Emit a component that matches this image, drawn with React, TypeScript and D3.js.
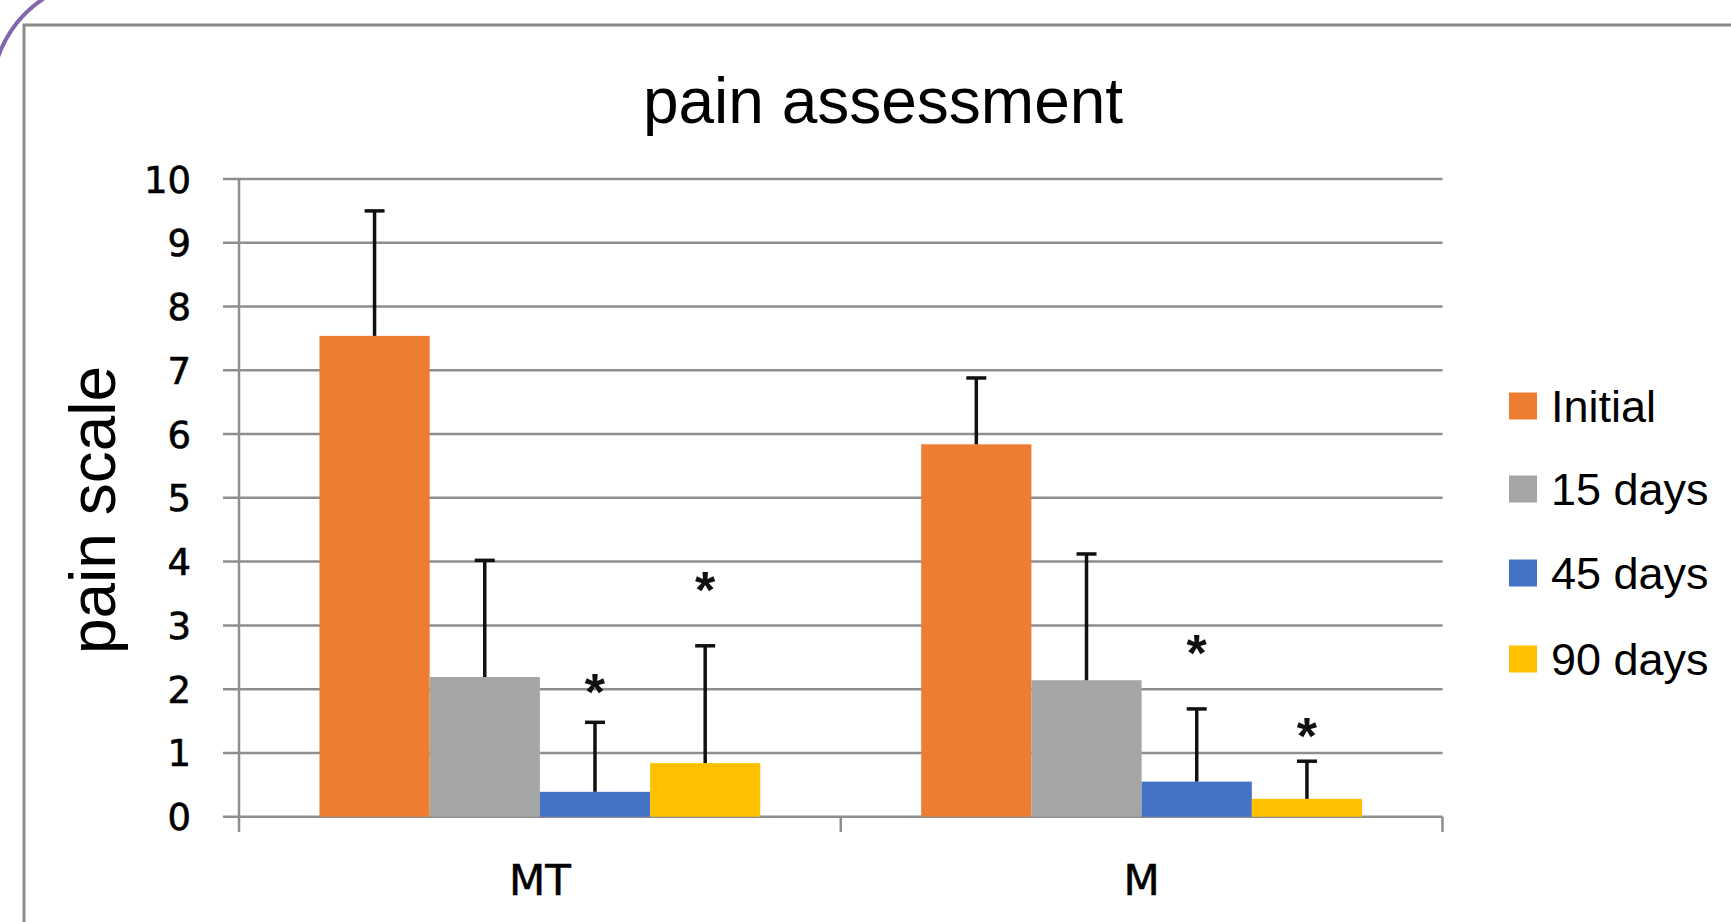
import React from "react";
import * as d3 from "d3";

const categories = ["MT", "M"];
const seriesNames = ["Initial", "15 days", "45 days", "90 days"];
const seriesColors = ["#ED7D31", "#A5A5A5", "#4472C4", "#FFC000"];
// mean values per series, per category
const initialValues = [7.54, 5.84];
const days15Values = [2.19, 2.14];
const days45Values = [0.39, 0.55];
const days90Values = [0.84, 0.28];
// upper error (SD) per series, per category
const initialErrors = [1.96, 1.04];
const days15Errors = [1.83, 1.98];
const days45Errors = [1.09, 1.14];
const days90Errors = [1.84, 0.59];
// significance asterisk positions (value units)
const days45Stars = [2.05, 2.66];
const days90Stars = [3.65, 1.36];
const yTicks = [0, 1, 2, 3, 4, 5, 6, 7, 8, 9, 10];

const W = 1731;
const H = 922;

export default function App() {
  const values = [initialValues, days15Values, days45Values, days90Values];
  const errors = [initialErrors, days15Errors, days45Errors, days90Errors];
  const stars: (number[] | null)[] = [null, null, days45Stars, days90Stars];

  const plotLeft = 239;
  const plotRight = 1442.5;
  const y = d3.scaleLinear().domain([0, 10]).range([816.7, 179]);
  const x0 = d3.scaleBand<string>().domain(categories).range([plotLeft, plotRight]).padding(0);
  const x1 = d3
    .scaleBand<string>()
    .domain(seriesNames)
    .range([0, x0.bandwidth()])
    .paddingInner(0)
    .paddingOuter(0.73);

  const gridColor = "#8e8e8e";
  const arial = "'Liberation Sans', Arial, sans-serif";
  const dejavu = "'DejaVu Sans', Verdana, sans-serif";

  return (
    <>
      <style>{`body{margin:0;overflow:hidden}`}</style>
      <svg
        width={W}
        height={H}
        style={{ position: "absolute", left: 0, top: 0, background: "#fff" }}
      >
        {/* decorative purple arc */}
        <path d="M -3 60 A 119 119 0 0 1 46 -3" fill="none" stroke="#8466ad" strokeWidth={4} />
        {/* chart frame */}
        <rect x={24} y={25} width={W + 50} height={H + 50} fill="#fff" stroke="#8a8a8a" strokeWidth={3} />

        {/* title */}
        <text x={883} y={123} textAnchor="middle" fontFamily={arial} fontSize={64} fill="#000">
          pain assessment
        </text>

        {/* gridlines */}
        {yTicks.map((t) => (
          <line
            key={t}
            x1={223}
            x2={plotRight}
            y1={y(t)}
            y2={y(t)}
            stroke={gridColor}
            strokeWidth={2.5}
          />
        ))}
        {/* y axis line */}
        <line x1={plotLeft} x2={plotLeft} y1={y(10)} y2={832} stroke={gridColor} strokeWidth={2.5} />
        {/* category ticks */}
        {categories.map((c) => {
          const xx = (x0(c) as number) + x0.bandwidth();
          return (
            <line key={c} x1={xx} x2={xx} y1={y(0)} y2={832} stroke={gridColor} strokeWidth={2.5} />
          );
        })}

        {/* y tick labels */}
        {yTicks.map((t) => (
          <text
            key={t}
            x={191}
            y={y(t) + 13.5}
            textAnchor="end"
            fontFamily={dejavu}
            fontSize={37}
            fill="#000"
            stroke="#000"
            strokeWidth={0.6}
          >
            {t}
          </text>
        ))}

        {/* y axis title */}
        <text
          transform={`translate(115,510) rotate(-90)`}
          textAnchor="middle"
          fontFamily={arial}
          fontSize={64}
          fill="#000"
        >
          pain scale
        </text>

        {/* bars */}
        {seriesNames.map((s, si) =>
          categories.map((c, ci) => {
            const bx = (x0(c) as number) + (x1(s) as number);
            const v = values[si][ci];
            return (
              <rect
                key={s + c}
                x={bx}
                y={y(v)}
                width={x1.bandwidth()}
                height={y(0) - y(v)}
                fill={seriesColors[si]}
              />
            );
          })
        )}

        {/* error bars */}
        {seriesNames.map((s, si) =>
          categories.map((c, ci) => {
            const cx = (x0(c) as number) + (x1(s) as number) + x1.bandwidth() / 2;
            const v = values[si][ci];
            const top = v + errors[si][ci];
            return (
              <g key={"e" + s + c} stroke="#111" strokeWidth={3.5}>
                <line x1={cx} x2={cx} y1={y(v)} y2={y(top)} />
                <line x1={cx - 10} x2={cx + 10} y1={y(top)} y2={y(top)} />
              </g>
            );
          })
        )}

        {/* significance stars */}
        {seriesNames.map((s, si) =>
          stars[si]
            ? categories.map((c, ci) => {
                const cx = (x0(c) as number) + (x1(s) as number) + x1.bandwidth() / 2;
                const sv = (stars[si] as number[])[ci];
                return (
                  <text
                    key={"s" + s + c}
                    x={cx}
                    y={y(sv) + 24}
                    textAnchor="middle"
                    fontFamily={arial}
                    fontWeight="bold"
                    fontSize={52}
                    fill="#111"
                  >
                    *
                  </text>
                );
              })
            : null
        )}

        {/* category labels */}
        {categories.map((c) => (
          <text
            key={"l" + c}
            x={(x0(c) as number) + x0.bandwidth() / 2}
            y={895}
            textAnchor="middle"
            fontFamily={dejavu}
            fontSize={42}
            fill="#000"
            stroke="#000"
            strokeWidth={0.5}
          >
            {c}
          </text>
        ))}

        {/* legend */}
        {seriesNames.map((s, si) => {
          const cy = [406, 489, 573, 659][si];
          return (
            <g key={"lg" + s}>
              <rect x={1509} y={cy - 13.5} width={28} height={27} fill={seriesColors[si]} />
              <text x={1551} y={cy + 16} fontFamily={arial} fontSize={45} fill="#000">
                {s}
              </text>
            </g>
          );
        })}
      </svg>
    </>
  );
}
